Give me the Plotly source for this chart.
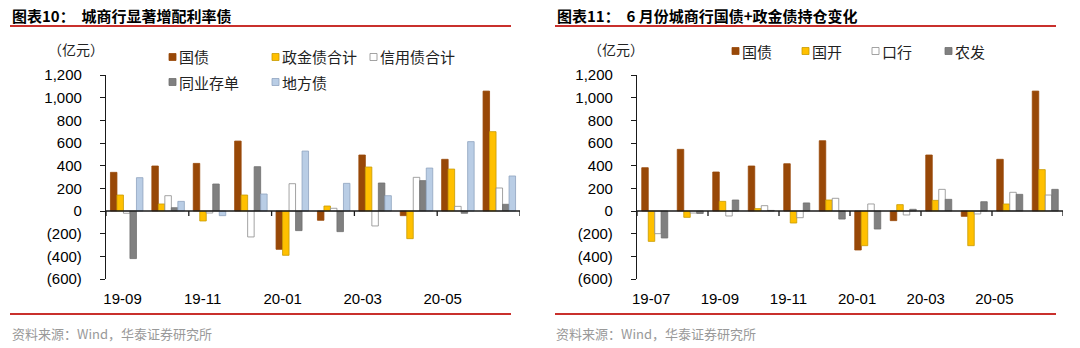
import plotly.graph_objects as go

W, H = 1080, 348

# ---------------- data ----------------
months_left = ["19-09", "19-10", "19-11", "19-12", "20-01", "20-02", "20-03", "20-04", "20-05", "20-06"]
gz_left = [341, 397, 420, 617, -338, -82, 494, -41, 456, 1058]        # 国债
zjz_left = [141, 62, -88, 141, -391, 44, 388, -244, 370, 700]         # 政金债合计
xyz_left = [-20, 135, -18, -229, 241, 24, -132, 297, 41, 203]         # 信用债合计
tycd_left = [-420, 29, 238, 391, -173, -182, 247, 268, -20, 59]       # 同业存单
dfz_left = [294, 85, -41, 150, 529, 244, 135, 379, 612, 309]          # 地方债

months_right = ["19-07", "19-08", "19-09", "19-10", "19-11", "19-12",
                "20-01", "20-02", "20-03", "20-04", "20-05", "20-06"]
gz_right = [382, 544, 344, 397, 417, 620, -344, -85, 494, -47, 456, 1058]   # 国债
gk_right = [-268, -56, 85, 21, -106, 97, -306, 56, 94, -306, 62, 365]      # 国开
kh_right = [-200, -18, -44, 47, -59, 112, 62, -35, 191, -26, 165, 141]     # 口行
nf_right = [-238, -22, 97, 5, 71, -71, -159, 15, 103, 82, 147, 191]        # 农发

y_tickvals = [-600, -400, -200, 0, 200, 400, 600, 800, 1000, 1200]
y_ticktext = ["(600)", "(400)", "(200)", "0", "200", "400", "600", "800", "1,000", "1,200"]

left_names = ["国债", "政金债合计", "信用债合计", "同业存单", "地方债"]
right_names = ["国债", "国开", "口行", "农发"]

# ---------------- style ----------------
C_BROWN = "#984807"
C_GOLD = "#FFC000"
C_WHITE = "#FFFFFF"
C_GRAY = "#808080"
C_BLUE = "#B9CDE5"
C_RED = "#C9302C"
AX = "#1a1a1a"
NUM_FONT = "Liberation Sans, Arial, sans-serif"
CJK_FONT = "Noto Sans CJK SC, sans-serif"

fills_left = [C_BROWN, C_GOLD, C_WHITE, C_GRAY, C_BLUE]
lines_left = [C_BROWN, "#C89A00", "#8C8C8C", "#6E6E6E", "#8FA3BF"]
fills_right = [C_BROWN, C_GOLD, C_WHITE, C_GRAY]
lines_right = [C_BROWN, "#C89A00", "#8C8C8C", "#6E6E6E"]

def px_x(p):
    return p / W

def px_y(p):
    return 1 - p / H

xdom_l = [px_x(106), px_x(520)]
xdom_r = [px_x(637), px_x(1063)]
ydom = [px_y(279), px_y(75)]

fig = go.Figure()

# left chart bars
series_left = [gz_left, zjz_left, xyz_left, tycd_left, dfz_left]
n_l = len(months_left)
bw_l = 0.157
for i, (name, vals) in enumerate(zip(left_names, series_left)):
    fig.add_trace(go.Bar(
        x=list(range(n_l)), y=vals, name=name, width=bw_l,
        offset=-bw_l * len(series_left) / 2 + i * bw_l,
        marker=dict(color=fills_left[i], line=dict(color=lines_left[i], width=0.8)),
        xaxis="x", yaxis="y", showlegend=False,
        hovertext=months_left,
    ))

# right chart bars
series_right = [gz_right, gk_right, kh_right, nf_right]
n_r = len(months_right)
bw_r = 0.183
for i, (name, vals) in enumerate(zip(right_names, series_right)):
    fig.add_trace(go.Bar(
        x=list(range(n_r)), y=vals, name=name, width=bw_r,
        offset=-bw_r * len(series_right) / 2 + i * bw_r,
        marker=dict(color=fills_right[i], line=dict(color=lines_right[i], width=0.8)),
        xaxis="x2", yaxis="y2", showlegend=False,
        hovertext=months_right,
    ))

def lab_pos(n):
    return [i - 0.1 * (1 + i / 3) for i in range(0, n, 2)]

xcommon = dict(showline=False, ticks="", showgrid=False, zeroline=False, automargin=False,
               tickfont=dict(family=NUM_FONT, size=15, color="#000"),
               ticklabelstandoff=9)
ycommon = dict(range=[-600, 1200], tickvals=y_tickvals, ticktext=y_ticktext,
               showline=True, linecolor=AX, linewidth=1.3, ticks="outside",
               ticklen=5, tickcolor=AX, tickwidth=1.3, showgrid=False, zeroline=False,
               automargin=False,
               tickfont=dict(family=NUM_FONT, size=15, color="#000"),
               ticklabelstandoff=15)

fig.update_layout(
    template="none",
    width=W, height=H, margin=dict(l=0, r=0, t=0, b=0, pad=0, autoexpand=False),
    paper_bgcolor="white", plot_bgcolor="white",
    barmode="overlay", showlegend=False,
    xaxis=dict(domain=xdom_l, range=[-0.5, n_l - 0.5], anchor="y",
               tickvals=lab_pos(n_l), ticktext=months_left[0::2], **xcommon),
    yaxis=dict(domain=ydom, anchor="x", **ycommon),
    xaxis2=dict(domain=xdom_r, range=[-0.5, n_r - 0.5], anchor="y2",
                tickvals=lab_pos(n_r), ticktext=months_right[0::2], **xcommon),
    yaxis2=dict(domain=ydom, anchor="x2", **ycommon),
)

shapes = []
# zero axis lines with category-pair tick marks
for xr, yr, n in [("x", "y", n_l), ("x2", "y2", n_r)]:
    shapes.append(dict(type="line", xref=xr, yref=yr, x0=-0.5, x1=n - 0.5, y0=0, y1=0,
                       line=dict(color=AX, width=1.3), layer="above"))
    for k in range(0, n + 1, 2):
        shapes.append(dict(type="line", xref=xr, yref=yr, x0=k - 0.5, x1=k - 0.5,
                           ysizemode="pixel", yanchor=0, y0=0, y1=-5,
                           line=dict(color=AX, width=1.3), layer="above"))

# red rules
for x0, x1 in [(10, 511), (555, 1056)]:
    for yy in (26, 314):
        shapes.append(dict(type="line", xref="paper", yref="paper",
                           x0=px_x(x0), x1=px_x(x1), y0=px_y(yy), y1=px_y(yy),
                           line=dict(color=C_RED, width=2)))

annotations = []

def txt(x, y, s, size=15, color="#000", family=CJK_FONT, anchor="left"):
    annotations.append(dict(xref="paper", yref="paper", x=px_x(x), y=px_y(y),
                            xanchor=anchor, yanchor="middle", showarrow=False,
                            text=s, font=dict(family=family, size=size, color=color)))

# titles
txt(10, 15, "<b>图表10：  城商行显著增配利率债</b>", size=15)
txt(555, 15, "<b>图表11：  6 月份城商行国债+政金债持仓变化</b>", size=15)
# units
txt(46, 49, "（亿元）", size=14, color="#222")
txt(586, 49, "（亿元）", size=14, color="#222")
# sources
txt(10, 333, "资料来源：Wind，华泰证券研究所", size=13, color="#999999")
txt(554, 333, "资料来源：Wind，华泰证券研究所", size=13, color="#999999")

# legends (key squares + labels)
leg_left = [(169, 57), (272, 57), (370, 57), (169, 82), (272, 82)]
leg_right = [(732, 51), (802, 51), (872, 51), (945, 51)]
for (kx, ky), name, fc, lc in zip(leg_left, left_names, fills_left, lines_left):
    shapes.append(dict(type="rect", xref="paper", yref="paper",
                       x0=px_x(kx), x1=px_x(kx + 7), y0=px_y(ky - 3.5), y1=px_y(ky + 3.5),
                       fillcolor=fc, line=dict(color=lc, width=0.8)))
    txt(kx + 8, ky, name, size=15, color="#222")
for (kx, ky), name, fc, lc in zip(leg_right, right_names, fills_right, lines_right):
    shapes.append(dict(type="rect", xref="paper", yref="paper",
                       x0=px_x(kx), x1=px_x(kx + 7), y0=px_y(ky - 3.5), y1=px_y(ky + 3.5),
                       fillcolor=fc, line=dict(color=lc, width=0.8)))
    txt(kx + 8, ky, name, size=15, color="#222")

fig.update_layout(shapes=shapes, annotations=annotations)
fig.write_html("out.html")
